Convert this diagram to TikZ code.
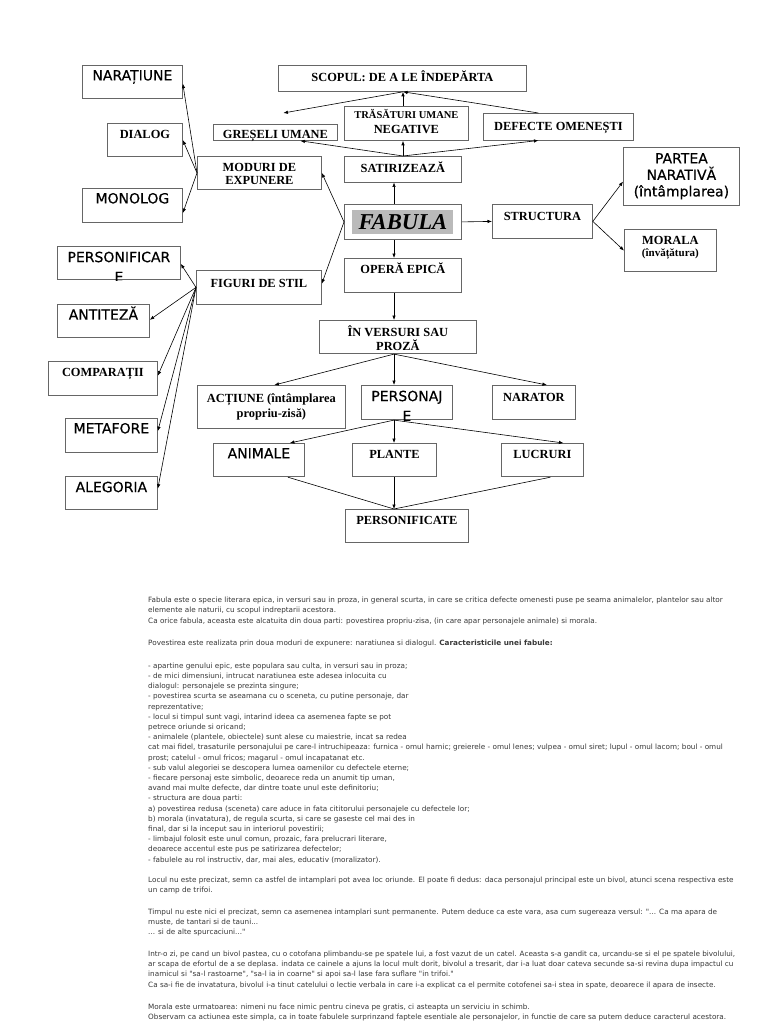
\documentclass[tikz,border=0pt]{standalone}
\usepackage{fontspec}
\setmainfont{Liberation Serif}
\newfontfamily\vfont{DejaVu Sans}
\newfontfamily\cellfont{DejaVu Sans}[FakeBold=0.4]
\usetikzlibrary{arrows.meta}

\tikzset{
  cell/.style={draw=black!60, line width=0.8pt, anchor=north west, inner sep=0pt, align=center, text height=15.5pt},
  serif/.style={font=\fontsize{12.4}{14.5}\selectfont\bfseries},
  sans/.style={font=\cellfont\fontsize{14}{18}\selectfont},
  link/.style={-{Latex[length=4.5pt,width=3.5pt]}, line width=0.6pt},
  wire/.style={line width=0.6pt},
  prose/.style={anchor=base west, align=left, inner sep=0pt, text=black!78, font=\vfont\fontsize{7.25}{10.2}\selectfont},
}

\begin{document}
\begin{tikzpicture}[x=1pt,y=-1pt]
    \useasboundingbox (0,0) rectangle (768,1024);
    \coordinate (axis) at (394,0);
    \coordinate (top) at (403,0);

    % Centre
    \node[cell, minimum width=117pt, text depth=19.5pt] (fab) at (344,204) {};
    \node[fill=black!27, minimum width=101pt, minimum height=24.6pt, inner sep=0pt,
          font=\fontsize{22.7}{24}\selectfont\bfseries\itshape] (fabtxt) at (fab.center) {FABULA};

    % Scope and satire
    \node[cell, serif, minimum width=248pt, text height=15.7pt, text depth=10.3pt] (scop) at (278,65) {SCOPUL: DE A LE ÎNDEPĂRTA};
    \node[cell, serif, minimum width=124pt, text height=14.3pt, text depth=1.7pt] (gres) at (213,124) {GREȘELI UMANE};
    \node[cell, serif, minimum width=124pt, text height=26.7pt, text depth=7.3pt] (tras) at (344,106) {{\fontsize{10.5}{12}\selectfont TRĂSĂTURI UMANE}\\NEGATIVE};
    \node[cell, serif, minimum width=150pt, text height=16.7pt, text depth=10pt] (def) at (483,113) {DEFECTE OMENEȘTI};
    \node[cell, serif, minimum width=117pt, text height=15.7pt, text depth=10pt] (sat) at (344,156) {SATIRIZEAZĂ};

    % Structure
    \node[cell, serif, minimum width=100pt, text height=15.7pt, text depth=18.3pt] (struct) at (492,204) {STRUCTURA};
    \node[cell, font=\cellfont\fontsize{14}{16.5}\selectfont, minimum width=116pt, text height=49pt, text depth=9.4pt] (partea) at (623,147) {PARTEA\\NARATIVĂ\\(întâmplarea)};
    \node[cell, serif, font=\fontsize{12.4}{12}\selectfont\bfseries, minimum width=92pt, text height=27.5pt, text depth=14.9pt] (moral) at (624,229) {MORALA\\{\fontsize{11}{12}\selectfont(învățătura)}};

    % Modes of exposition
    \node[cell, font=\fontsize{12.4}{13.6}\selectfont\bfseries, minimum width=124pt, text height=28.6pt, text depth=4.4pt] (moduri) at (197,156) {MODURI DE\\EXPUNERE};
    \node[cell, sans, minimum width=100pt, text height=15pt, text depth=18pt] (narat) at (82,65) {NARAȚIUNE};
    \node[cell, serif, minimum width=75pt, text height=15pt, text depth=18.3pt] (dial) at (107,123) {DIALOG};
    \node[cell, sans, minimum width=100pt, text height=15pt, text depth=19pt] (mono) at (82,188) {MONOLOG};

    % Figures of speech
    \node[cell, serif, minimum width=125pt, text height=16.7pt, text depth=17.3pt] (fig) at (196,270) {FIGURI DE STIL};
    \node[cell, sans, minimum width=123pt, text height=15.7pt, text depth=17.6pt] (persf) at (57,246) {PERSONIFICAR};
    \node[cell, sans, minimum width=92pt, text height=15.3pt, text depth=18pt] (anti) at (57,304) {ANTITEZĂ};
    \node[cell, serif, minimum width=109pt, text height=15.3pt, text depth=18.3pt] (comp) at (48,361) {COMPARAȚII};
    \node[cell, sans, minimum width=92pt, text height=15pt, text depth=19pt] (meta) at (65,418) {METAFORE};
    \node[cell, sans, minimum width=92pt, text height=15.7pt, text depth=17.6pt] (aleg) at (65,476) {ALEGORIA};

    % Epic work
    \node[cell, serif, minimum width=117pt, text height=15.5pt, text depth=18.5pt] (opera) at (344,258) {OPERĂ EPICĂ};
    \node[cell, font=\fontsize{12.4}{14}\selectfont\bfseries, minimum width=157pt, text height=30pt, text depth=3.3pt] (vers) at (319,320) {ÎN VERSURI SAU\\PROZĂ};
    \node[cell, font=\fontsize{12.4}{15}\selectfont\bfseries, minimum width=148pt, text height=31.7pt, text depth=11pt] (act) at (197,385) {ACȚIUNE (întâmplarea\\propriu-zisă)};
    \node[cell, sans, minimum width=91pt, text height=15.7pt, text depth=18.6pt] (pers) at (361,385) {PERSONAJ};
    \node[cell, serif, minimum width=83pt, text height=15.7pt, text depth=18.6pt] (nar) at (492,385) {NARATOR};
    \node[cell, sans, minimum width=91pt, text height=15pt, text depth=18.4pt] (anim) at (213,443) {ANIMALE};
    \node[cell, serif, minimum width=84pt, text height=15pt, text depth=18.4pt] (plant) at (352,443) {PLANTE};
    \node[cell, serif, minimum width=82pt, text height=15pt, text depth=18.4pt] (lucr) at (501,443) {LUCRURI};
    \node[cell, serif, minimum width=123pt, text height=15pt, text depth=18pt] (perscat) at (345,509) {PERSONIFICATE};

    % Cut-off second lines
    \begin{scope}
        \clip (persf.north west) rectangle (persf.south east);
        \node[sans, anchor=base, inner sep=0pt] (persfE) at ([yshift=-36pt]persf.north) {E};
    \end{scope}
    \begin{scope}
        \clip (pers.north west) rectangle (pers.south east);
        \node[sans, anchor=base, inner sep=0pt] (persE) at ([yshift=-36pt]pers.north) {E};
    \end{scope}

    % Upper links
    \draw[link] (fab.north -| axis) -- (sat.south -| axis);
    \draw[link] (sat.north -| top) -- (tras.south -| top);
    \draw[link] (tras.north -| top) -- (scop.south -| top);
    \draw[link] (scop.south -| top) -- ([shift={(8,-11)}]gres.north);
    \draw[link] ([xshift=-20pt]def.north) -- (scop.south -| top);
    \draw[link] (sat.north -| top) -- ([xshift=25pt]gres.south);
    \draw[link] (sat.north -| top) -- ([xshift=-20pt]def.south);

    % Side links
    \draw[link] (fab.east) -- (struct.west);
    \draw[link] (struct.east) -- ([yshift=-5pt]partea.west);
    \draw[link] (struct.east) -- (moral.west);
    \draw[link] (fab.west) -- (moduri.east);
    \draw[link] (fab.west) -- ([yshift=3.7pt]fig.east);
    \draw[link] (moduri.west) -- ([yshift=-1.8pt]narat.east);
    \draw[link] (moduri.west) -- (dial.east);
    \draw[link] (moduri.west) -- ([yshift=-7.7pt]mono.east);
    \foreach \t/\s in {persf/-0.8, anti/1.2, comp/2.5, meta/4.3, aleg/4.4}
        \draw[link] (fig.west) -- ([yshift=\s pt]\t.east);

    % Lower links
    \draw[link] (fab.south -| axis) -- (opera.north -| axis);
    \draw[link] (opera.south -| axis) -- (vers.north -| axis);
    \draw[link] (vers.south -| axis) -- ([xshift=3pt]act.north);
    \draw[link] (vers.south -| axis) -- (pers.north -| axis);
    \draw[link] (vers.south -| axis) -- ([xshift=13pt]nar.north);
    \draw[link] (pers.south -| axis) -- ([xshift=31pt]anim.north);
    \draw[link] (pers.south -| axis) -- (plant.north -| axis);
    \draw[link] (pers.south -| axis) -- ([xshift=21pt]lucr.north);
    \draw[wire] ([xshift=29pt]anim.south) -- (perscat.north -| axis);
    \draw[link] (plant.south -| axis) -- (perscat.north -| axis);
    \draw[wire] ([xshift=8pt]lucr.south) -- (perscat.north -| axis);

    % Text below (base = last line)
    \node[prose] (p1) at (148,623) {Fabula este o specie literara epica, in versuri sau in proza, in general scurta, in care se critica defecte omenesti puse pe seama animalelor, plantelor sau altor\\
elemente ale naturii, cu scopul indreptarii acestora.\\
Ca orice fabula, aceasta este alcatuita din doua parti: povestirea propriu-zisa, (in care apar personajele animale) si morala.};
    \node[prose] (p2) at (148,645) {Povestirea este realizata prin doua moduri de expunere: naratiunea si dialogul. \textbf{Caracteristicile unei fabule:}};
    \node[prose] (p3) at (148,862) {- apartine genului epic, este populara sau culta, in versuri sau in proza;\\
- de mici dimensiuni, intrucat naratiunea este adesea inlocuita cu\\
dialogul: personajele se prezinta singure;\\
- povestirea scurta se aseamana cu o sceneta, cu putine personaje, dar\\
reprezentative;\\
- locul si timpul sunt vagi, intarind ideea ca asemenea fapte se pot\\
petrece oriunde si oricand;\\
- animalele (plantele, obiectele) sunt alese cu maiestrie, incat sa redea\\
cat mai fidel, trasaturile personajului pe care-l intruchipeaza: furnica - omul harnic; greierele - omul lenes; vulpea - omul siret; lupul - omul lacom; boul - omul\\
prost; catelul - omul fricos; magarul - omul incapatanat etc.\\
- sub valul alegoriei se descopera lumea oamenilor cu defectele eterne;\\
- fiecare personaj este simbolic, deoarece reda un anumit tip uman,\\
avand mai multe defecte, dar dintre toate unul este definitoriu;\\
- structura are doua parti:\\
a) povestirea redusa (sceneta) care aduce in fata cititorului personajele cu defectele lor;\\
b) morala (invatatura), de regula scurta, si care se gaseste cel mai des in\\
final, dar si la inceput sau in interiorul povestirii;\\
- limbajul folosit este unul comun, prozaic, fara prelucrari literare,\\
deoarece accentul este pus pe satirizarea defectelor;\\
- fabulele au rol instructiv, dar, mai ales, educativ (moralizator).};
    \node[prose] (p4) at (148,892.5) {Locul nu este precizat, semn ca astfel de intamplari pot avea loc oriunde. El poate fi dedus: daca personajul principal este un bivol, atunci scena respectiva este\\
un camp de trifoi.};
    \node[prose] (p5) at (148,934.5) {Timpul nu este nici el precizat, semn ca asemenea intamplari sunt permanente. Putem deduce ca este vara, asa cum sugereaza versul: "... Ca ma apara de\\
muste, de tantari si de tauni...\\
... si de alte spurcaciuni..."};
    \node[prose] (p6) at (148,987) {Intr-o zi, pe cand un bivol pastea, cu o cotofana plimbandu-se pe spatele lui, a fost vazut de un catel. Aceasta s-a gandit ca, urcandu-se si el pe spatele bivolului,\\
ar scapa de efortul de a se deplasa. indata ce cainele a ajuns la locul mult dorit, bivolul a tresarit, dar i-a luat doar cateva secunde sa-si revina dupa impactul cu\\
inamicul si "sa-l rastoarne", "sa-l ia in coarne" si apoi sa-l lase fara suflare "in trifoi."\\
Ca sa-i fie de invatatura, bivolul i-a tinut catelului o lectie verbala in care i-a explicat ca el permite cotofenei sa-i stea in spate, deoarece il apara de insecte.};
    \node[prose] (p7) at (148,1019.5) {Morala este urmatoarea: nimeni nu face nimic pentru cineva pe gratis, ci asteapta un serviciu in schimb.\\
Observam ca actiunea este simpla, ca in toate fabulele surprinzand faptele esentiale ale personajelor, in functie de care sa putem deduce caracterul acestora.};
\end{tikzpicture}
\end{document}
